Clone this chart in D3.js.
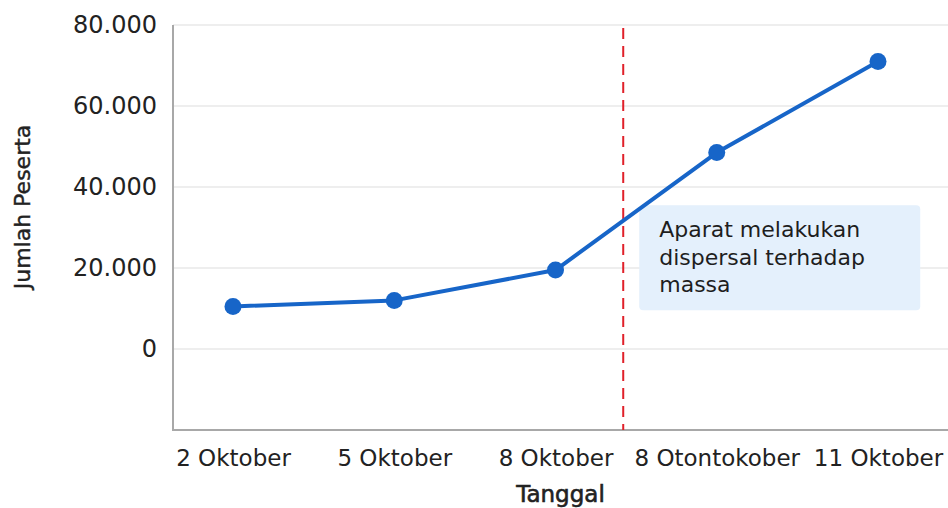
<!DOCTYPE html>
<html>
<head>
<meta charset="utf-8">
<script src="https://cdn.jsdelivr.net/npm/d3@7"></script>
<style>
  body { margin: 0; background: #fff; }
  svg { display: block; font-family: "DejaVu Sans", sans-serif; }
</style>
</head>
<body>
<svg></svg>
<script>
var width = 948, height = 508;

// data
var categories = ["2 Oktober", "5 Oktober", "8 Oktober", "8 Otontokober", "11 Oktober"];
var peserta = [10500, 12000, 19500, 48500, 71000];
var yTicks = [0, 20000, 40000, 60000, 80000];
var noteLines = ["Aparat melakukan", "dispersal terhadap", "massa"];

var plot = {left: 173, right: 948, top: 25, bottom: 430};

var svg = d3.select("svg").attr("width", width).attr("height", height);

var x = d3.scalePoint().domain(categories).range([233, 878]);
var y = d3.scaleLinear().domain([-20000, 80000]).range([plot.bottom, plot.top]);

var fmt = function (d) { return d3.format(",")(d).replace(/,/g, "."); };

// gridlines
svg.append("g")
    .selectAll("line")
    .data(yTicks)
    .enter().append("line")
    .attr("x1", plot.left).attr("x2", plot.right)
    .attr("y1", function (d) { return y(d); })
    .attr("y2", function (d) { return y(d); })
    .attr("stroke", "#e9e9e9")
    .attr("stroke-width", 1.5);

// y axis
var yAxis = svg.append("g")
    .attr("transform", "translate(" + plot.left + ",0)")
    .call(d3.axisLeft(y).tickValues(yTicks).tickFormat(fmt).tickSize(0).tickPadding(16));
yAxis.select(".domain").remove();
yAxis.selectAll("text")
    .attr("font-family", "DejaVu Sans, sans-serif")
    .attr("font-size", 24)
    .attr("fill", "#222");

// x axis labels
var xAxis = svg.append("g")
    .attr("transform", "translate(0," + plot.bottom + ")")
    .call(d3.axisBottom(x).tickSize(0).tickPadding(20));
xAxis.select(".domain").remove();
xAxis.selectAll("text")
    .attr("font-family", "DejaVu Sans, sans-serif")
    .attr("font-size", 23)
    .attr("fill", "#222");

// axis lines
svg.append("path")
    .attr("d", "M" + plot.left + "," + plot.top + "V" + plot.bottom + "H" + plot.right)
    .attr("fill", "none")
    .attr("stroke", "#a8a8a8")
    .attr("stroke-width", 2);

// dashed event marker after 8 Oktober
var markX = x(categories[2]) + 0.42 * (x(categories[3]) - x(categories[2]));
svg.append("line")
    .attr("x1", markX).attr("x2", markX)
    .attr("y1", plot.top + 3).attr("y2", plot.bottom)
    .attr("stroke", "#e0202a")
    .attr("stroke-width", 2)
    .attr("stroke-dasharray", "11,7");

// annotation box
var note = svg.append("g").attr("transform", "translate(" + (markX + 16) + "," + y(35500) + ")");
note.append("rect")
    .attr("width", 281).attr("height", 105)
    .attr("rx", 4)
    .attr("fill", "#e4f0fc");
note.selectAll("text")
    .data(noteLines)
    .enter().append("text")
    .attr("x", 20)
    .attr("y", function (d, i) { return 32 + i * 27.5; })
    .attr("font-size", 22)
    .attr("fill", "#1e1e1e")
    .text(function (d) { return d; });

// line
var line = d3.line()
    .x(function (d, i) { return x(categories[i]); })
    .y(function (d) { return y(d); });

svg.append("path")
    .datum(peserta)
    .attr("d", line)
    .attr("fill", "none")
    .attr("stroke", "#1765c8")
    .attr("stroke-width", 4)
    .attr("stroke-linejoin", "round");

svg.append("g")
    .selectAll("circle")
    .data(peserta)
    .enter().append("circle")
    .attr("cx", function (d, i) { return x(categories[i]); })
    .attr("cy", function (d) { return y(d); })
    .attr("r", 8.5)
    .attr("fill", "#1765c8");

// axis titles
svg.append("text")
    .attr("x", (plot.left + plot.right) / 2)
    .attr("y", 502)
    .attr("text-anchor", "middle")
    .attr("font-size", 23)
    .attr("fill", "#222")
    .attr("stroke", "#222")
    .attr("stroke-width", 0.6)
    .text("Tanggal");

svg.append("text")
    .attr("transform", "translate(30,207) rotate(-90)")
    .attr("text-anchor", "middle")
    .attr("font-size", 22)
    .attr("fill", "#222")
    .attr("stroke", "#222")
    .attr("stroke-width", 0.4)
    .text("Jumlah Peserta");
</script>
</body>
</html>
